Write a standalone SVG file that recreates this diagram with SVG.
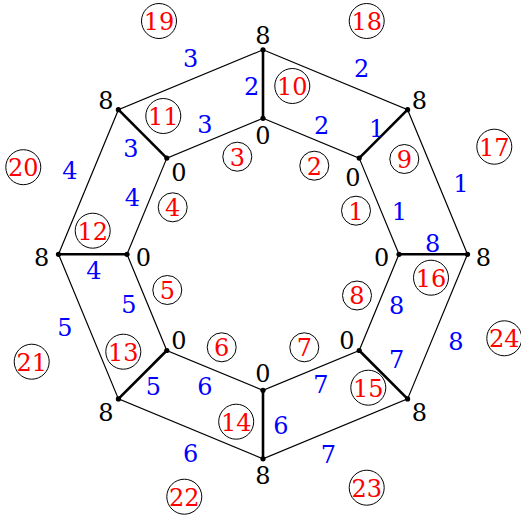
<svg xmlns="http://www.w3.org/2000/svg" width="521" height="519" viewBox="0 0 521 519">
<style>
.k{fill:#000}
.b{fill:#0000ff}
.r{fill:#ff0000}
.e{stroke:#000;stroke-width:1.2;fill:none}
.s{stroke:#000;stroke-width:2.6;fill:none}
.d{fill:#000}
.c{fill:none;stroke:#000;stroke-width:1}
</style>
<rect width="521" height="519" fill="#fff"/>
<g font-family="DejaVu Serif, serif" font-size="24" text-anchor="middle">
<g id="connectors">
<polygon class="e" points="263,49.8 407.6,109.7 467.5,254.3 407.6,398.9 263,458.8 118.4,398.9 58.5,254.3 118.4,109.7"/>
<polygon class="e" points="263,118.3 359.2,158.1 399,254.3 359.2,350.5 263,390.3 166.8,350.5 127,254.3 166.8,158.1"/>
<line class="s" x1="263" y1="49.8" x2="263" y2="118.3"/>
<line class="s" x1="407.6" y1="109.7" x2="359.2" y2="158.1"/>
<line class="s" x1="467.5" y1="254.3" x2="399" y2="254.3"/>
<line class="s" x1="407.6" y1="398.9" x2="359.2" y2="350.5"/>
<line class="s" x1="263" y1="458.8" x2="263" y2="390.3"/>
<line class="s" x1="118.4" y1="398.9" x2="166.8" y2="350.5"/>
<line class="s" x1="58.5" y1="254.3" x2="127" y2="254.3"/>
<line class="s" x1="118.4" y1="109.7" x2="166.8" y2="158.1"/>
<g class="b">
<text x="190.7" y="67">3</text>
<text x="361.7" y="77">2</text>
<text x="461" y="191.5">1</text>
<text x="456" y="350">8</text>
<text x="328.3" y="463">7</text>
<text x="190.7" y="462">6</text>
<text x="65" y="335.5">5</text>
<text x="70" y="179">4</text>
<text x="205" y="133">3</text>
<text x="321.7" y="134">2</text>
<text x="399.3" y="219.5">1</text>
<text x="396.7" y="314">8</text>
<text x="321" y="393">7</text>
<text x="205" y="395">6</text>
<text x="129" y="313">5</text>
<text x="132.3" y="206">4</text>
<text x="251.7" y="95">2</text>
<text x="131" y="157">3</text>
<text x="376.7" y="137">1</text>
<text x="432.7" y="252">8</text>
<text x="396.7" y="368">7</text>
<text x="281" y="434">6</text>
<text x="153.3" y="395">5</text>
<text x="94" y="279">4</text>
</g>
</g>
<g id="v-o-n"><circle class="d" cx="263" cy="49.8" r="2.6"/><text class="k" x="263" y="44">8</text></g>
<g id="v-o-ne"><circle class="d" cx="407.6" cy="109.7" r="2.6"/><text class="k" x="419.3" y="109">8</text></g>
<g id="v-o-e"><circle class="d" cx="467.5" cy="254.3" r="2.6"/><text class="k" x="483.3" y="265.5">8</text></g>
<g id="v-o-se"><circle class="d" cx="407.6" cy="398.9" r="2.6"/><text class="k" x="419.3" y="420.5">8</text></g>
<g id="v-o-s"><circle class="d" cx="263" cy="458.8" r="2.6"/><text class="k" x="263" y="484">8</text></g>
<g id="v-o-sw"><circle class="d" cx="118.4" cy="398.9" r="2.6"/><text class="k" x="106" y="420.5">8</text></g>
<g id="v-o-w"><circle class="d" cx="58.5" cy="254.3" r="2.6"/><text class="k" x="41.7" y="265.5">8</text></g>
<g id="v-o-nw"><circle class="d" cx="118.4" cy="109.7" r="2.6"/><text class="k" x="106" y="109">8</text></g>
<g id="v-i-n"><circle class="d" cx="263" cy="118.3" r="2.6"/><text class="k" x="263" y="144">0</text></g>
<g id="v-i-ne"><circle class="d" cx="359.2" cy="158.1" r="2.6"/><text class="k" x="353" y="186">0</text></g>
<g id="v-i-e"><circle class="d" cx="399" cy="254.3" r="2.6"/><text class="k" x="381.7" y="265.5">0</text></g>
<g id="v-i-se"><circle class="d" cx="359.2" cy="350.5" r="2.6"/><text class="k" x="347" y="349">0</text></g>
<g id="v-i-s"><circle class="d" cx="263" cy="390.3" r="2.6"/><text class="k" x="263" y="382">0</text></g>
<g id="v-i-sw"><circle class="d" cx="166.8" cy="350.5" r="2.6"/><text class="k" x="179" y="349">0</text></g>
<g id="v-i-w"><circle class="d" cx="127" cy="254.3" r="2.6"/><text class="k" x="143.3" y="265.5">0</text></g>
<g id="v-i-nw"><circle class="d" cx="166.8" cy="158.1" r="2.6"/><text class="k" x="179" y="180.5">0</text></g>
<g id="f1"><circle class="c" cx="356" cy="210.7" r="14.5"/><text class="r" x="356" y="219.5">1</text></g>
<g id="f2"><circle class="c" cx="314.3" cy="165.7" r="14.5"/><text class="r" x="314.3" y="174.5">2</text></g>
<g id="f3"><circle class="c" cx="237.3" cy="156.7" r="14.5"/><text class="r" x="237.3" y="165.5">3</text></g>
<g id="f4"><circle class="c" cx="172.7" cy="207.3" r="14.5"/><text class="r" x="172.7" y="216">4</text></g>
<g id="f5"><circle class="c" cx="167.3" cy="290" r="14.5"/><text class="r" x="167.3" y="299">5</text></g>
<g id="f6"><circle class="c" cx="221.7" cy="347.3" r="14.5"/><text class="r" x="221.7" y="356">6</text></g>
<g id="f7"><circle class="c" cx="304.3" cy="347.3" r="14.5"/><text class="r" x="304.3" y="356">7</text></g>
<g id="f8"><circle class="c" cx="357" cy="295.5" r="14.5"/><text class="r" x="357" y="304.3">8</text></g>
<g id="f9"><circle class="c" cx="404.3" cy="159" r="14.5"/><text class="r" x="404.3" y="168">9</text></g>
<g id="f10"><circle class="c" cx="292.3" cy="86" r="17.5"/><text class="r" x="292.3" y="95">10</text></g>
<g id="f11"><circle class="c" cx="163.3" cy="116" r="17.5"/><text class="r" x="163.3" y="125">11</text></g>
<g id="f12"><circle class="c" cx="92.7" cy="230.7" r="17.5"/><text class="r" x="92.7" y="239.5">12</text></g>
<g id="f13"><circle class="c" cx="123.3" cy="351.7" r="17.5"/><text class="r" x="123.3" y="360.5">13</text></g>
<g id="f14"><circle class="c" cx="236.2" cy="421.7" r="17.5"/><text class="r" x="236.2" y="430.5">14</text></g>
<g id="f15"><circle class="c" cx="368.3" cy="387.7" r="17.5"/><text class="r" x="368.3" y="396.5">15</text></g>
<g id="f16"><circle class="c" cx="431" cy="277.7" r="17.5"/><text class="r" x="431" y="286.5">16</text></g>
<g id="f17"><circle class="c" cx="494.3" cy="146.7" r="17.5"/><text class="r" x="494.3" y="155.5">17</text></g>
<g id="f18"><circle class="c" cx="366.7" cy="21" r="17.5"/><text class="r" x="366.7" y="30">18</text></g>
<g id="f19"><circle class="c" cx="159" cy="21" r="17.5"/><text class="r" x="159" y="30">19</text></g>
<g id="f20"><circle class="c" cx="23.3" cy="167.2" r="17.5"/><text class="r" x="23.3" y="176">20</text></g>
<g id="f21"><circle class="c" cx="31.7" cy="361.7" r="17.5"/><text class="r" x="31.7" y="370.5">21</text></g>
<g id="f22"><circle class="c" cx="184.3" cy="496.7" r="17.5"/><text class="r" x="184.3" y="505.5">22</text></g>
<g id="f23"><circle class="c" cx="366.7" cy="487.7" r="17.5"/><text class="r" x="366.7" y="496.5">23</text></g>
<g id="f24"><circle class="c" cx="504.3" cy="338.3" r="17.5"/><text class="r" x="504.3" y="347">24</text></g>
</g>
</svg>
